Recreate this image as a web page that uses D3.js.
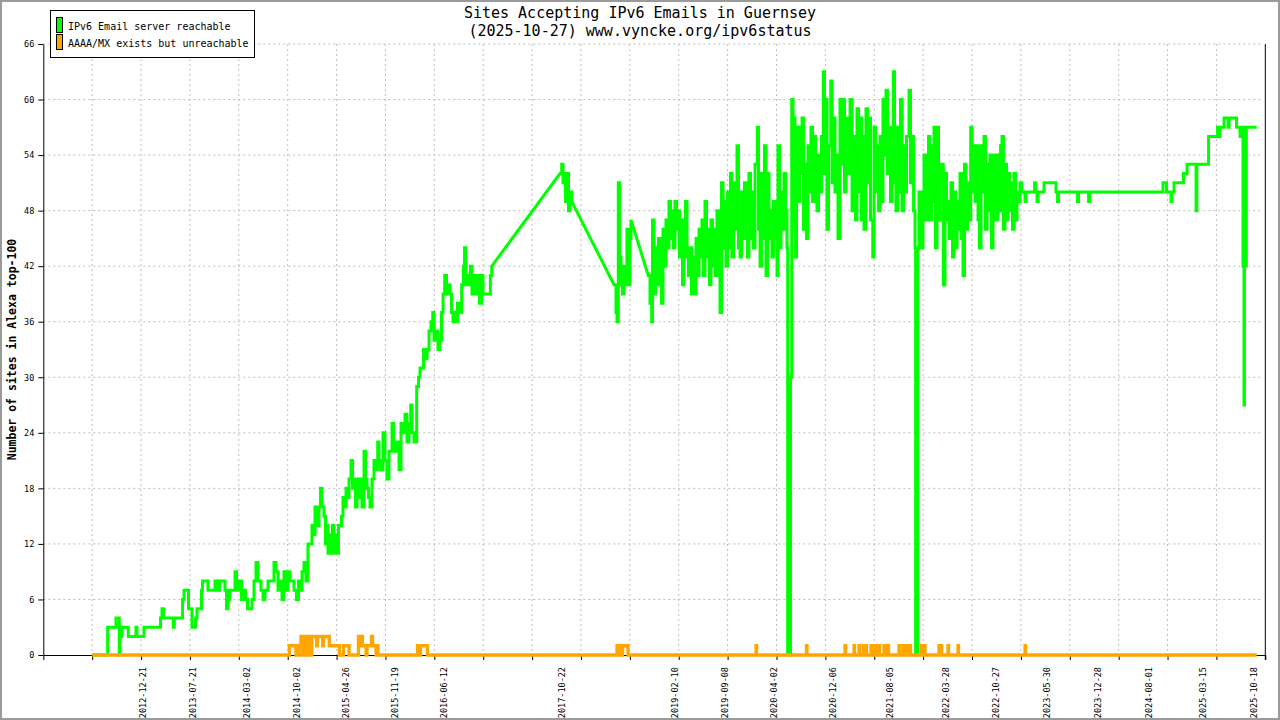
<!DOCTYPE html>
<html>
<head>
<meta charset="utf-8">
<script src="https://cdn.jsdelivr.net/npm/d3@7"></script>
<style>
  body { margin: 0; background: #fff; }
  text { font-family: "DejaVu Sans Mono", "Liberation Mono", monospace; }
</style>
</head>
<body>
<div id="chart"></div>
<script>
// ------------------------------------------------------------------
// data (x in decimal years, y = number of sites)
// ------------------------------------------------------------------
const reachable = [
  [2012.383,0],[2012.555,0],[2012.561,3],[2012.645,3],[2012.657,4],[2012.689,4],[2012.695,0],[2012.703,3],[2012.715,2],[2012.726,3],
  [2012.790,3],[2012.799,2],[2012.882,2],[2012.888,3],[2012.899,2],[2012.975,2],[2012.980,3],[2013.157,3],[2013.171,4],[2013.188,5],
  [2013.205,4],[2013.309,4],[2013.318,3],[2013.330,4],[2013.407,4],[2013.425,6],[2013.442,7],[2013.482,7],[2013.494,5],[2013.517,5],
  [2013.534,3],[2013.557,3],[2013.575,4],[2013.592,5],[2013.632,5],[2013.644,7],[2013.656,8],[2013.708,8],[2013.719,7],[2013.788,7],
  [2013.800,8],[2013.829,7],[2013.852,8],[2013.904,8],[2013.915,7],[2013.933,5],[2013.950,6],[2013.967,7],[2014.007,7],[2014.031,9],
  [2014.048,7],[2014.083,8],[2014.106,6],[2014.129,7],[2014.152,6],[2014.175,5],[2014.204,5],[2014.227,6],[2014.250,8],[2014.273,10],
  [2014.296,8],[2014.331,7],[2014.354,6],[2014.377,7],[2014.412,8],[2014.458,8],[2014.481,10],[2014.504,9],[2014.527,7],[2014.550,8],
  [2014.573,6],[2014.596,9],[2014.619,7],[2014.642,9],[2014.665,8],[2014.689,8],[2014.712,7],[2014.740,6],[2014.764,8],[2014.787,7],
  [2014.804,9],[2014.827,10],[2014.850,8],[2014.873,12],[2014.896,12],[2014.919,14],[2014.937,13],[2014.954,16],[2014.977,14],[2015.000,16],
  [2015.018,18],[2015.035,16],[2015.058,15],[2015.075,12],[2015.093,14],[2015.104,11],[2015.121,13],[2015.139,11],[2015.156,14],[2015.173,11],
  [2015.191,13],[2015.208,11],[2015.225,14],[2015.243,14],[2015.260,15],[2015.277,17],[2015.295,16],[2015.312,18],[2015.329,17],[2015.347,19],
  [2015.370,21],[2015.387,18],[2015.404,19],[2015.422,16],[2015.439,19],[2015.456,17],[2015.473,19],[2015.497,16],[2015.520,22],[2015.537,19],
  [2015.554,18],[2015.572,17],[2015.589,16],[2015.612,19],[2015.635,21],[2015.658,20],[2015.678,23],[2015.693,21],[2015.716,20],[2015.739,24],
  [2015.762,21],[2015.785,19],[2015.808,22],[2015.843,25],[2015.860,23],[2015.878,22],[2015.901,23],[2015.924,20],[2015.947,25],[2015.970,24],
  [2015.993,26],[2016.016,23],[2016.039,25],[2016.059,27],[2016.074,24],[2016.097,23],[2016.128,29],[2016.149,30],[2016.166,31],[2016.189,31],
  [2016.207,33],[2016.224,32],[2016.247,33],[2016.270,35],[2016.293,36],[2016.313,37],[2016.328,34],[2016.351,35],[2016.374,33],[2016.397,34],
  [2016.414,37],[2016.432,39],[2016.451,41],[2016.472,39],[2016.489,40],[2016.512,39],[2016.530,37],[2016.547,36],[2016.565,37],[2016.582,36],
  [2016.599,38],[2016.616,37],[2016.647,40],[2016.668,42],[2016.680,44],[2016.697,40],[2016.714,41],[2016.731,40],[2016.749,42],[2016.766,39],
  [2016.784,41],[2016.801,40],[2016.818,39],[2016.835,41],[2016.853,38],[2016.876,41],[2016.893,39],[2016.962,39],[2016.978,41],[2016.994,42],
  [2017.782,52],[2017.802,53],[2017.817,51],[2017.834,52],[2017.846,49],[2017.863,52],[2017.880,48],[2017.898,50],[2017.917,49],[2018.405,40],
  [2018.428,37],[2018.440,36],[2018.455,51],[2018.469,43],[2018.486,40],[2018.503,39],[2018.521,42],[2018.538,40],[2018.555,46],[2018.573,40],
  [2018.590,45],[2018.602,47],[2018.801,41],[2018.821,38],[2018.840,36],[2018.850,47],[2018.867,39],[2018.884,44],[2018.902,40],[2018.919,45],
  [2018.936,41],[2018.954,38],[2018.971,46],[2018.988,42],[2019.005,47],[2019.023,44],[2019.040,49],[2019.057,45],[2019.075,48],[2019.092,44],
  [2019.109,49],[2019.127,46],[2019.144,48],[2019.161,43],[2019.179,47],[2019.196,40],[2019.213,46],[2019.231,49],[2019.248,43],[2019.265,41],
  [2019.283,44],[2019.300,39],[2019.317,43],[2019.335,39],[2019.352,45],[2019.369,41],[2019.387,46],[2019.404,43],[2019.421,47],[2019.439,41],
  [2019.456,49],[2019.473,43],[2019.491,46],[2019.508,40],[2019.525,47],[2019.543,42],[2019.560,46],[2019.577,41],[2019.594,48],[2019.612,42],
  [2019.629,37],[2019.646,51],[2019.664,44],[2019.681,49],[2019.698,42],[2019.716,50],[2019.733,44],[2019.750,52],[2019.767,43],[2019.785,51],
  [2019.802,46],[2019.825,55],[2019.842,44],[2019.860,43],[2019.877,50],[2019.894,45],[2019.911,51],[2019.929,47],[2019.946,43],[2019.963,52],
  [2019.981,45],[2019.998,50],[2020.015,44],[2020.033,53],[2020.059,57],[2020.073,46],[2020.091,42],[2020.108,52],[2020.125,45],[2020.142,55],
  [2020.160,41],[2020.177,52],[2020.194,45],[2020.212,48],[2020.229,43],[2020.246,49],[2020.264,45],[2020.287,41],[2020.298,55],[2020.316,44],
  [2020.333,50],[2020.350,46],[2020.368,52],[2020.385,48],[2020.402,44],[2020.410,0],[2020.420,28],[2020.431,0],[2020.443,30],[2020.457,60],
  [2020.472,47],[2020.483,58],[2020.495,43],[2020.512,57],[2020.529,49],[2020.547,57],[2020.564,52],[2020.576,58],[2020.593,46],[2020.610,53],
  [2020.627,45],[2020.645,55],[2020.662,50],[2020.679,57],[2020.697,49],[2020.714,56],[2020.731,52],[2020.748,48],[2020.766,54],[2020.783,50],
  [2020.800,56],[2020.821,63],[2020.835,52],[2020.852,60],[2020.864,46],[2020.881,55],[2020.907,62],[2020.922,51],[2020.939,58],[2020.956,50],
  [2020.974,54],[2020.991,45],[2021.014,60],[2021.031,53],[2021.049,60],[2021.066,50],[2021.083,56],[2021.098,58],[2021.118,52],[2021.130,60],
  [2021.153,48],[2021.176,56],[2021.193,47],[2021.210,59],[2021.228,50],[2021.245,58],[2021.262,47],[2021.280,56],[2021.291,46],[2021.314,59],
  [2021.332,51],[2021.349,58],[2021.366,47],[2021.392,43],[2021.407,57],[2021.424,50],[2021.441,55],[2021.459,48],[2021.476,56],[2021.493,49],
  [2021.510,60],[2021.528,54],[2021.545,61],[2021.562,52],[2021.579,57],[2021.597,49],[2021.614,56],[2021.629,63],[2021.643,51],[2021.660,48],
  [2021.678,57],[2021.695,50],[2021.712,60],[2021.730,48],[2021.747,55],[2021.764,50],[2021.782,56],[2021.811,61],[2021.828,51],[2021.845,56],
  [2021.863,48],[2021.880,44],[2021.887,0],[2021.897,24],[2021.903,0],[2021.912,44],[2021.926,50],[2021.938,47],[2021.955,44],[2021.972,50],
  [2021.984,54],[2022.001,47],[2022.018,53],[2022.036,56],[2022.053,47],[2022.070,55],[2022.087,49],[2022.099,57],[2022.116,44],[2022.134,57],
  [2022.151,47],[2022.168,51],[2022.186,53],[2022.206,40],[2022.226,52],[2022.243,47],[2022.261,49],[2022.278,45],[2022.295,51],[2022.313,43],
  [2022.330,50],[2022.347,44],[2022.365,49],[2022.382,46],[2022.399,52],[2022.417,45],[2022.434,41],[2022.451,53],[2022.468,46],[2022.486,51],
  [2022.503,47],[2022.523,57],[2022.538,50],[2022.555,55],[2022.572,49],[2022.590,55],[2022.607,47],[2022.624,44],[2022.642,55],[2022.659,50],
  [2022.676,56],[2022.693,46],[2022.711,53],[2022.728,48],[2022.745,54],[2022.763,44],[2022.780,48],[2022.797,54],[2022.815,47],[2022.832,54],
  [2022.849,48],[2022.867,55],[2022.884,56],[2022.901,46],[2022.918,53],[2022.936,47],[2022.953,52],[2022.970,48],[2022.988,51],[2023.005,46],
  [2023.022,52],[2023.040,47],[2023.057,50],[2023.074,49],[2023.092,51],[2023.111,50],[2023.144,50],[2023.150,49],[2023.161,50],[2023.254,50],
  [2023.260,51],[2023.271,50],[2023.288,49],[2023.300,50],[2023.358,50],[2023.369,51],[2023.496,51],[2023.507,50],[2023.525,49],[2023.536,50],
  [2023.750,50],[2023.756,49],[2023.767,50],[2023.877,50],[2023.883,49],[2023.894,50],[2024.731,50],[2024.742,51],[2024.771,51],[2024.783,50],
  [2024.823,50],[2024.835,49],[2024.846,50],[2024.869,51],[2024.968,51],[2024.979,52],[2025.008,52],[2025.020,53],[2025.118,53],[2025.124,48],
  [2025.133,53],[2025.256,53],[2025.268,56],[2025.360,56],[2025.372,57],[2025.389,56],[2025.401,57],[2025.435,57],[2025.447,58],[2025.482,58],
  [2025.493,57],[2025.505,58],[2025.585,58],[2025.591,57],[2025.620,57],[2025.632,56],[2025.655,56],[2025.660,57],[2025.666,42],[2025.672,57],
  [2025.677,27],[2025.683,42],[2025.689,57],[2025.695,42],[2025.704,57],[2025.824,57]
]

const unreachable = [
  [2012.383,0],[2014.654,0],[2014.658,1],[2014.724,1],[2014.735,0],[2014.752,0],[2014.764,1],[2014.781,1],[2014.792,2],[2014.804,0],
  [2014.821,2],[2014.839,1],[2014.850,0],[2014.867,2],[2014.885,1],[2014.902,0],[2014.916,2],[2014.966,2],[2014.974,1],[2014.983,2],
  [2015.035,2],[2015.043,1],[2015.052,2],[2015.108,2],[2015.119,1],[2015.223,1],[2015.235,0],[2015.274,0],[2015.283,1],[2015.335,1],
  [2015.347,0],[2015.445,0],[2015.456,2],[2015.473,1],[2015.485,2],[2015.502,1],[2015.531,1],[2015.543,0],[2015.554,1],[2015.589,1],
  [2015.606,2],[2015.618,1],[2015.647,1],[2015.658,0],[2015.670,1],[2015.681,0],[2016.126,0],[2016.137,1],[2016.160,0],[2016.172,1],
  [2016.241,1],[2016.253,0],[2018.428,0],[2018.440,1],[2018.463,0],[2018.475,1],[2018.492,0],[2018.504,1],[2018.555,1],[2018.567,0],
  [2020.039,0],[2020.045,1],[2020.051,0],[2020.621,0],[2020.627,1],[2020.633,0],[2021.066,0],[2021.072,1],[2021.078,0],
  [2021.170,0],[2021.176,1],[2021.182,0],[2021.228,0],[2021.234,1],[2021.240,0],[2021.279,0],[2021.285,1],[2021.291,0],
  [2021.308,0],[2021.314,1],[2021.320,0],[2021.366,0],[2021.372,1],[2021.378,0],[2021.389,0],[2021.395,1],[2021.401,0],
  [2021.412,0],[2021.418,1],[2021.424,0],[2021.458,0],[2021.464,1],[2021.470,0],[2021.516,0],[2021.522,1],[2021.528,0],
  [2021.539,0],[2021.545,1],[2021.551,0],[2021.562,0],[2021.568,1],[2021.574,0],[2021.689,0],[2021.695,1],[2021.701,0],
  [2021.735,0],[2021.741,1],[2021.747,0],[2021.758,0],[2021.764,1],[2021.770,0],[2021.781,0],[2021.787,1],[2021.793,0],
  [2021.816,0],[2021.822,1],[2021.828,0],[2021.949,0],[2021.955,1],[2021.961,0],[2021.984,0],[2021.990,1],[2021.996,0],
  [2022.151,0],[2022.157,1],[2022.163,0],[2022.174,0],[2022.180,1],[2022.186,0],[2022.255,0],[2022.261,1],[2022.267,0],
  [2022.370,0],[2022.376,1],[2022.382,0],[2023.144,0],[2023.150,1],[2023.156,0],[2025.824,0]
]

const xTickLabels = ['2012-12-21','2013-07-21','2014-03-02','2014-10-02','2015-04-26','2015-11-19','2016-06-12',
  '2017-10-22','2019-02-10','2019-09-08','2020-04-02','2020-12-06','2021-08-05','2022-03-28','2022-10-27',
  '2023-05-30','2023-12-28','2024-08-01','2025-03-15','2025-10-18']
const yTicks = [0, 6, 12, 18, 24, 30, 36, 42, 48, 54, 60, 66]
const seriesNames = ['IPv6 Email server reachable', 'AAAA/MX exists but unreachable']
const seriesColors = ['#00ff00', '#ffa500']
const titleLines = ['Sites Accepting IPv6 Emails in Guernsey', '(2025-10-27) www.vyncke.org/ipv6status']
const yTitle = 'Number of sites in Alexa top-100'

// ------------------------------------------------------------------
// sizes
// ------------------------------------------------------------------
const WIDTH = 1280
const HEIGHT = 720
const PLOT_LEFT = 43.3
const PLOT_RIGHT = 1265.3
const PLOT_TOP = 44
const PLOT_BOTTOM = 655
const X_START = 2011.818
const X_END = 2025.923
const N_X_TICKS = 25
const STEP_GAP = 4      // px: closer samples are drawn as steps, wider gaps as straight lines
const GRID_COLOR = '#bdbdbd'

function dateToYear(s) {
  const [yy, mm, dd] = s.split('-').map(Number)
  const start = Date.UTC(yy, 0, 1), end = Date.UTC(yy + 1, 0, 1)
  return yy + (Date.UTC(yy, mm - 1, dd) - start) / (end - start)
}

const svg = d3.select('#chart').append('svg')
  .attr('width', WIDTH)
  .attr('height', HEIGHT)

svg.append('rect')
  .attr('x', 1).attr('y', 1)
  .attr('width', WIDTH - 2).attr('height', HEIGHT - 2)
  .attr('fill', '#fff')
  .attr('stroke', '#9a9a9a')
  .attr('stroke-width', 2)

const x = d3.scaleLinear().domain([X_START, X_END]).range([PLOT_LEFT, PLOT_RIGHT])
const y = d3.scaleLinear().domain([0, 66]).range([PLOT_BOTTOM, PLOT_TOP])

const xTickYears = d3.range(N_X_TICKS + 1).map(i => X_START + i * (X_END - X_START) / N_X_TICKS)

// grid
const grid = svg.append('g')
grid.selectAll('line.h')
  .data(yTicks.filter(d => d > 0))
  .join('line')
  .attr('x1', PLOT_LEFT).attr('x2', PLOT_RIGHT - 4)
  .attr('y1', d => y(d)).attr('y2', d => y(d))
  .attr('stroke', GRID_COLOR).attr('stroke-dasharray', '2,3')
grid.selectAll('line.v')
  .data(xTickYears.slice(1, -1))
  .join('line')
  .attr('x1', d => x(d)).attr('x2', d => x(d))
  .attr('y1', PLOT_TOP).attr('y2', PLOT_BOTTOM)
  .attr('stroke', GRID_COLOR).attr('stroke-dasharray', '2,3')

// axes
const yAxis = svg.append('g')
  .attr('transform', `translate(${PLOT_LEFT},0)`)
  .call(d3.axisLeft(y).tickValues(yTicks).tickSize(5).tickSizeOuter(0).tickPadding(4))
yAxis.selectAll('text').style('font-size', '8.5px').attr('fill', '#000')

const xAxis = svg.append('g')
  .attr('transform', `translate(0,${PLOT_BOTTOM})`)
  .call(d3.axisBottom(x).tickValues(xTickYears).tickSize(5).tickSizeOuter(0).tickFormat(''))

svg.selectAll('.domain').attr('stroke', '#000')
svg.selectAll('.tick line').attr('stroke', '#000')

svg.append('line')
  .attr('x1', PLOT_RIGHT).attr('x2', PLOT_RIGHT)
  .attr('y1', PLOT_TOP).attr('y2', PLOT_BOTTOM + 5)
  .attr('stroke', '#000')

svg.append('g').selectAll('text')
  .data(xTickLabels)
  .join('text')
  .attr('transform', d => `translate(${x(dateToYear(d))},667)rotate(-90)`)
  .attr('text-anchor', 'end')
  .attr('dy', '0.35em')
  .style('font-size', '8.5px')
  .text(d => d)

// lines: dense daily samples look like steps, gaps in the data are straight segments
function seriesPath(data) {
  const p = d3.path()
  p.moveTo(x(data[0][0]), y(data[0][1]))
  for (let i = 1; i < data.length; i++) {
    const x0 = x(data[i - 1][0])
    const x1 = x(data[i][0]), y1 = y(data[i][1])
    if (x1 - x0 <= STEP_GAP) {
      p.lineTo(x1, y(data[i - 1][1]))
      p.lineTo(x1, y1)
    } else {
      p.lineTo(x1, y1)
    }
  }
  return p.toString()
}

svg.append('path')
  .attr('d', seriesPath(reachable))
  .attr('fill', 'none')
  .attr('stroke', seriesColors[0])
  .attr('stroke-width', 3)
svg.append('path')
  .attr('d', seriesPath(unreachable))
  .attr('fill', 'none')
  .attr('stroke', seriesColors[1])
  .attr('stroke-width', 3.3)

// titles
svg.append('g').selectAll('text')
  .data(titleLines)
  .join('text')
  .attr('x', WIDTH / 2)
  .attr('y', (d, i) => 18 + i * 18)
  .attr('text-anchor', 'middle')
  .style('font-size', '15px')
  .text(d => d)

svg.append('text')
  .attr('transform', `translate(12,${(PLOT_TOP + PLOT_BOTTOM) / 2})rotate(-90)`)
  .attr('text-anchor', 'middle')
  .attr('dy', '0.35em')
  .style('font-size', '11.5px')
  .style('font-weight', 'bold')
  .text(yTitle)

// legend
const legend = svg.append('g')
legend.append('rect')
  .attr('x', 50.5).attr('y', 10.5)
  .attr('width', 204).attr('height', 47)
  .attr('fill', '#fff').attr('stroke', '#000')
seriesNames.forEach((name, i) => {
  legend.append('rect')
    .attr('x', 56.5).attr('y', 17.5 + i * 17)
    .attr('width', 6).attr('height', 15)
    .attr('fill', seriesColors[i]).attr('stroke', '#000')
  legend.append('text')
    .attr('x', 68).attr('y', 29.5 + i * 17)
    .style('font-size', '10px')
    .text(name)
})
</script>
</body>
</html>
